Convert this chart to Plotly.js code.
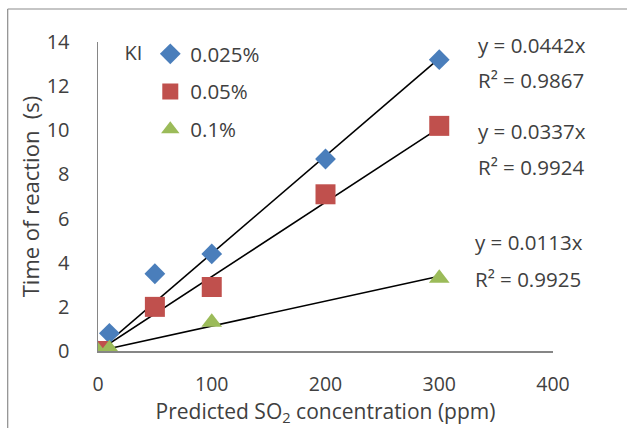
<!DOCTYPE html>
<html>
<head>
<meta charset="utf-8">
<script src="https://cdn.plot.ly/plotly-3.0.1.min.js"></script>
<style>html,body{margin:0;padding:0;background:#fff;}#chart{width:627px;height:428px;}</style>
</head>
<body>
<div id="chart"></div>
<script>
// ---- data ----
const seriesNames = ['0.025%', '0.05%', '0.1%'];
const xBlue = [0, 10, 50, 100, 200, 300];
const yBlue = [0, 0.8, 3.5, 4.4, 8.7, 13.2];
const xRed = [0, 50, 100, 200, 300];
const yRed = [0, 2.0, 2.9, 7.1, 10.2];
const xGreen = [0, 10, 100, 300];
const yGreen = [0, 0.1, 1.3, 3.3];
const slopes = [0.0442, 0.0337, 0.0113];
const r2 = ['0.9867', '0.9924', '0.9925'];
const xTicks = [0, 100, 200, 300, 400];
const yTicks = [0, 2, 4, 6, 8, 10, 12, 14];

// ---- layout helpers ----
const W = 627, H = 428;
const M = {l: 97.5, r: 73.5, t: 42, b: 77};
const PW = W - M.l - M.r, PH = H - M.t - M.b;
const px = v => (v - M.l) / PW;          // pixel -> paper x
const py = v => (H - M.b - v) / PH;      // pixel -> paper y

const txt = '#404040';
const FONT = 'Open Sans, Noto Sans, sans-serif';
const colors = ['#4a7ebb', '#c0504d', '#9bbb59'];
const xs = [xBlue, xRed, xGreen];
const ys = [yBlue, yRed, yGreen];
const symbols = ['diamond', 'square', 'triangle-up'];
const sizes = [16, 20, 18];

const traces = [];
// trend lines (through origin)
for (let i = 0; i < 3; i++) {
  const xmax = Math.max(...xs[i]);
  traces.push({
    x: [0, xmax], y: [0, slopes[i] * xmax],
    mode: 'lines', type: 'scatter',
    line: {color: '#000', width: 1.6},
    showlegend: false, hoverinfo: 'skip', legendgroup: 'g' + i
  });
}
for (let i = 0; i < 3; i++) {
  traces.push({
    x: xs[i], y: ys[i], name: seriesNames[i],
    mode: 'markers', type: 'scatter',
    marker: {symbol: symbols[i], size: sizes[i], color: colors[i]},
    legendgroup: 'g' + i
  });
}

const eqY = [[45, 80], [131, 167], [242, 279]];
const eqX = [476, 476, 473];
const annotations = [];
for (let i = 0; i < 3; i++) {
  annotations.push({xref: 'paper', yref: 'paper', x: px(eqX[i]), y: py(eqY[i][0]), xanchor: 'left', yanchor: 'middle',
    text: 'y = ' + slopes[i].toFixed(4) + 'x', showarrow: false, font: {family: FONT, size: 20.5, color: txt}});
  annotations.push({xref: 'paper', yref: 'paper', x: px(eqX[i]), y: py(eqY[i][1]), xanchor: 'left', yanchor: 'middle',
    text: 'R² = ' + r2[i], showarrow: false, font: {family: FONT, size: 20.5, color: txt}});
}

const layout = {
  width: W, height: H,
  margin: M,
  paper_bgcolor: '#fff', plot_bgcolor: 'rgba(0,0,0,0)',
  font: {family: FONT, size: 20, color: txt},
  showlegend: true,
  legend: {x: px(122), y: py(34), xanchor: 'left', yanchor: 'top',
    bgcolor: 'rgba(0,0,0,0)', traceorder: 'grouped', tracegroupgap: 8,
    title: {text: 'KI', side: 'left', font: {family: FONT, size: 20, color: txt}},
    font: {family: FONT, size: 20.5, color: txt}},
  xaxis: {range: [0, 400], tickvals: xTicks, showgrid: false, zeroline: false,
    showline: true, linecolor: '#868686', linewidth: 1.5,
    ticks: 'outside', ticklen: 15, tickcolor: 'rgba(0,0,0,0)',
    tickfont: {family: FONT, size: 19.5, color: txt},
    title: {text: 'Predicted SO<sub>2</sub> concentration (ppm)', standoff: 6, font: {family: FONT, size: 21, color: txt}}},
  yaxis: {range: [0, 14], tickvals: yTicks, showgrid: false, zeroline: false,
    showline: true, linecolor: '#868686', linewidth: 1.5,
    ticks: 'outside', ticklen: 23, tickcolor: 'rgba(0,0,0,0)',
    tickfont: {family: FONT, size: 20, color: txt},
    title: {text: 'Time of reaction  (s)', standoff: 1, font: {family: FONT, size: 22, color: txt}}},
  shapes: [
    {type: 'line', xref: 'paper', yref: 'paper', x0: px(7), x1: px(7), y0: py(9), y1: py(440), line: {color: '#8c8c8c', width: 1.2}},
    {type: 'line', xref: 'paper', yref: 'paper', x0: px(7), x1: px(640), y0: py(9), y1: py(9), line: {color: '#8c8c8c', width: 1.2}}
  ],
  annotations: annotations
};

Plotly.newPlot('chart', traces, layout, {staticPlot: true, displayModeBar: false});
</script>
</body>
</html>
